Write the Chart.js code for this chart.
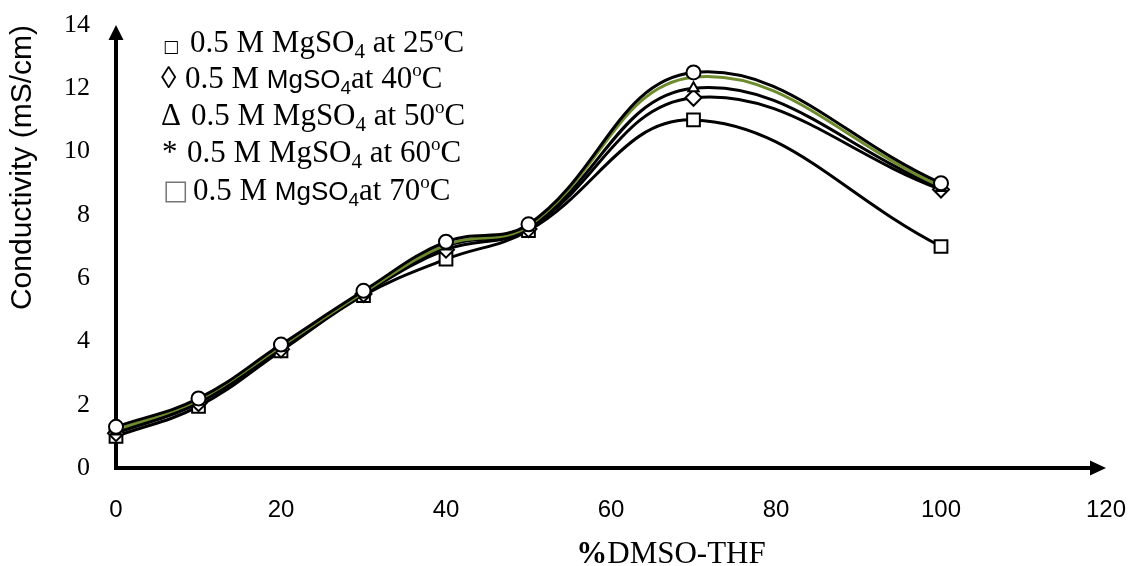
<!DOCTYPE html>
<html>
<head>
<meta charset="utf-8">
<script src="https://cdn.jsdelivr.net/npm/chart.js@4.4.1/dist/chart.umd.min.js"></script>
<style>
  html, body { margin: 0; padding: 0; background: #fff; }
  #wrap { width: 1130px; height: 566px; }
</style>
</head>
<body>
<div id="wrap"><canvas id="chart-conductivity" width="1130" height="566"></canvas></div>
<script>
// ---------------------------------------------------------------
// data
// ---------------------------------------------------------------
var pctDmso = [0, 10, 20, 30, 40, 50, 70, 100];

var cond25 = [1.0, 1.95, 3.7, 5.45, 6.6, 7.5, 11.0, 7.0];
var cond40 = [1.1, 2.05, 3.75, 5.5, 6.9, 7.55, 11.7, 8.8];
var cond50 = [1.15, 2.1, 3.8, 5.5, 7.0, 7.6, 12.0, 8.85];
var cond60 = [1.2, 2.15, 3.85, 5.55, 7.05, 7.65, 12.35, 8.9];
var cond70 = [1.3, 2.2, 3.9, 5.6, 7.15, 7.7, 12.5, 9.0];

var xTicks = [0, 20, 40, 60, 80, 100, 120];
var yTicks = [0, 2, 4, 6, 8, 10, 12, 14];

var legendTemps = ['25', '40', '50', '60', '70'];

var SERIF = '"Liberation Serif", "Times New Roman", serif';
var SANS = '"Liberation Sans", Arial, sans-serif';

function toPoints(ys) {
    return pctDmso.map(function (x, i) { return { x: x, y: ys[i] }; });
}

function serie(label, ys, style, radius, color, order) {
    return {
        label: label,
        data: toPoints(ys),
        borderColor: color,
        borderWidth: 3,
        tension: 0.4,
        pointStyle: style,
        pointRadius: radius,
        pointBackgroundColor: '#fff',
        pointBorderColor: '#000',
        pointBorderWidth: 2,
        clip: false,
        order: order
    };
}

// ---------------------------------------------------------------
// axes with arrows (drawn under the series)
// ---------------------------------------------------------------
var axesArrows = {
    id: 'axesArrows',
    beforeDatasetsDraw: function (chart) {
        var ctx = chart.ctx, a = chart.chartArea;
        ctx.save();
        ctx.strokeStyle = '#000';
        ctx.fillStyle = '#000';
        ctx.lineWidth = 4;
        ctx.beginPath();
        ctx.moveTo(a.left, a.bottom + 2);
        ctx.lineTo(a.left, a.top + 12);
        ctx.moveTo(a.left - 2, a.bottom);
        ctx.lineTo(a.right - 12, a.bottom);
        ctx.stroke();
        // arrow heads
        ctx.beginPath();
        ctx.moveTo(a.left, a.top);
        ctx.lineTo(a.left - 7.5, a.top + 15);
        ctx.lineTo(a.left + 7.5, a.top + 15);
        ctx.closePath();
        ctx.fill();
        ctx.beginPath();
        ctx.moveTo(a.right, a.bottom);
        ctx.lineTo(a.right - 16, a.bottom - 7.5);
        ctx.lineTo(a.right - 16, a.bottom + 7.5);
        ctx.closePath();
        ctx.fill();
        ctx.restore();
    }
};

// rich text helper: parts = [text, font, dy]
function drawRich(ctx, x, y, parts) {
    parts.forEach(function (p) {
        ctx.font = p[1];
        ctx.fillText(p[0], x, y + (p[2] || 0));
        x += ctx.measureText(p[0]).width;
    });
}

// ---------------------------------------------------------------
// legend box + x title (mixed fonts, sub/superscripts)
// ---------------------------------------------------------------
var textBits = {
    id: 'textBits',
    afterDraw: function (chart) {
        var ctx = chart.ctx;
        var tR = '31px ' + SERIF, tSub = '21px ' + SERIF, tSup = '19px ' + SERIF;
        var aR = '26px ' + SANS, aSub = '19px ' + SANS;
        ctx.save();
        ctx.fillStyle = '#000';
        ctx.textBaseline = 'alphabetic';
        ctx.textAlign = 'left';

        var symbols = [
            ['\u25A1', '17px "DejaVu Sans"', 163, '#000'],
            ['\u25CA', tR, 161, '#000'],
            ['\u0394', tR, 161, '#000'],
            ['*', tR, 162, '#000'],
            ['\u25A1', '27px "DejaVu Sans"', 163, '#777']
        ];
        var baselines = [52, 88, 125, 162, 200];
        var textX = [190, 185, 191, 187, 193];

        legendTemps.forEach(function (t, i) {
            var s = symbols[i];
            ctx.fillStyle = s[3];
            ctx.font = s[1];
            ctx.fillText(s[0], s[2], baselines[i] - (i === 4 ? 1 : 0));
            ctx.fillStyle = '#000';
            var parts;
            if (i === 1 || i === 4) {
                parts = [['0.5 M ', tR], ['MgSO', aR], ['4', aSub, 6], ['at ' + t, tR], ['o', tSup, -12], ['C', tR]];
            } else {
                parts = [['0.5 M MgSO', tR], ['4', tSub, 6], [' at ' + t, tR], ['o', tSup, -12], ['C', tR]];
            }
            drawRich(ctx, textX[i], baselines[i], parts);
        });

        // x axis title: bold % followed by regular text
        var bold = 'bold 31px ' + SERIF, reg = '31px ' + SERIF;
        ctx.font = bold;
        var w1 = ctx.measureText('%').width;
        ctx.font = reg;
        var w2 = ctx.measureText('DMSO-THF').width;
        drawRich(ctx, 671 - (w1 + w2) / 2, 563, [['%', bold], ['DMSO-THF', reg]]);
        ctx.restore();
    }
};

var ctx = document.getElementById('chart-conductivity').getContext('2d');

new Chart(ctx, {
    type: 'line',
    data: {
        datasets: [
            serie('0.5 M MgSO4 at 70°C', cond70, 'circle', 7, '#000', 0),
            serie('0.5 M MgSO4 at 60°C', cond60, 'star', 0, '#6E8B2E', 1),
            serie('0.5 M MgSO4 at 50°C', cond50, 'triangle', 6, '#000', 2),
            serie('0.5 M MgSO4 at 40°C', cond40, 'rectRot', 8, '#000', 3),
            serie('0.5 M MgSO4 at 25°C', cond25, 'rect', 9, '#000', 4)
        ]
    },
    options: {
        responsive: false,
        animation: false,
        devicePixelRatio: 1,
        layout: { padding: 0 },
        plugins: {
            legend: { display: false },
            tooltip: { enabled: false }
        },
        scales: {
            x: {
                type: 'linear',
                min: 0,
                max: 120,
                afterBuildTicks: function (s) { s.ticks = xTicks.map(function (v) { return { value: v }; }); },
                afterFit: function (s) { s.height = 98; s.paddingLeft = 0; s.paddingRight = 24; },
                grid: { display: false, drawTicks: false },
                border: { display: false },
                ticks: { color: '#000', font: { family: SANS, size: 24 }, padding: 28, maxRotation: 0 }
            },
            y: {
                min: 0,
                max: 14,
                afterBuildTicks: function (s) { s.ticks = yTicks.map(function (v) { return { value: v }; }); },
                afterFit: function (s) { s.width = 116; s.paddingTop = 25; s.paddingBottom = 0; },
                grid: { display: false, drawTicks: false },
                border: { display: false },
                ticks: { color: '#000', font: { family: SERIF, size: 26 }, padding: 26 },
                title: {
                    display: true,
                    text: 'Conductivity (mS/cm)',
                    align: 'end',
                    color: '#000',
                    font: { family: SANS, size: 30 },
                    padding: { top: 5, bottom: 0 }
                }
            }
        }
    },
    plugins: [axesArrows, textBits]
});
</script>
</body>
</html>
